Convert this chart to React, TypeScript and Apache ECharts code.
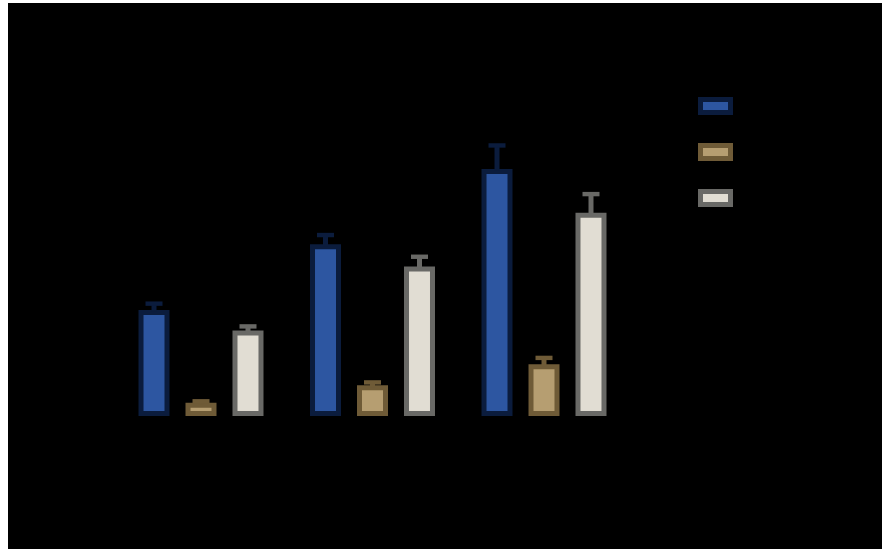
import React, { useEffect, useRef } from "react";
import * as echarts from "echarts";

// Three groups of bars, each bar with an upward error whisker.
const categories = ["A", "B", "C"];
const seriesNames = ["Series 1", "Series 2", "Series 3"];

const blueValues = [30.3, 49.1, 70.6];
const blueErrors = [1.8, 2.6, 6.7];
const tanValues = [3.8, 8.8, 14.8];
const tanErrors = [0.4, 0.8, 1.8];
const greyValues = [24.4, 42.7, 58.1];
const greyErrors = [1.2, 2.8, 5.3];

const fills = ["#2d56a1", "#b69e71", "#e1ddd3"];
const borders = ["#0b1c3d", "#6f5b37", "#696966"];

const BAR_WIDTH = 31;
const BAR_GAP = 0.516;

export default function App() {
  const ref = useRef<HTMLDivElement>(null);

  useEffect(() => {
    if (!ref.current) return;
    const chart = echarts.init(ref.current, null, { renderer: "svg" });

    const valueSets = [blueValues, tanValues, greyValues];
    const errorSets = [blueErrors, tanErrors, greyErrors];

    const barSeries = valueSets.map((vals, i) => ({
      name: seriesNames[i],
      type: "bar",
      data: vals,
      barWidth: BAR_WIDTH,
      barGap: `${BAR_GAP * 100}%`,
      itemStyle: { color: fills[i], borderColor: borders[i], borderWidth: 5 },
      z: 2,
    }));

    const errorSeries = valueSets.map((vals, i) => ({
      name: seriesNames[i] + " error",
      type: "custom",
      z: 3,
      data: vals.map((v, ci) => [ci, v, errorSets[i][ci]]),
      encode: { x: 0, y: 1 },
      renderItem: (_params: any, api: any) => {
        const ci = api.value(0);
        const v = api.value(1);
        const e = api.value(2);
        const base = api.coord([ci, v]);
        const top = api.coord([ci, v + e]);
        const offset = BAR_WIDTH * (1 + BAR_GAP) * (i - 1);
        const x = base[0] + offset;
        const color = borders[i];
        return {
          type: "group",
          children: [
            {
              type: "line",
              shape: { x1: x, y1: base[1] + 2, x2: x, y2: top[1] },
              style: { stroke: color, lineWidth: 5 },
            },
            {
              type: "line",
              shape: { x1: x - 8.5, y1: top[1], x2: x + 8.5, y2: top[1] },
              style: { stroke: color, lineWidth: 4.4 },
            },
          ],
        };
      },
    }));

    chart.setOption({
      animation: false,
      backgroundColor: "#000000",
      grid: { left: 107.25, right: 252.25, top: 63, bottom: 133 },
      legend: {
        orient: "vertical",
        left: 685,
        top: 89,
        icon: "rect",
        itemWidth: 30,
        itemHeight: 13,
        itemGap: 28,
        data: seriesNames,
        formatter: () => "",
        itemStyle: { borderWidth: 5 },
        textStyle: { color: "#000000" },
      },
      xAxis: {
        type: "category",
        data: categories,
        axisLine: { show: false },
        axisTick: { show: false },
        axisLabel: { show: false },
      },
      yAxis: {
        type: "value",
        min: 0,
        max: 100,
        axisLine: { show: false },
        axisTick: { show: false },
        axisLabel: { show: false },
        splitLine: { show: false },
      },
      series: [...barSeries, ...errorSeries],
    });

    return () => chart.dispose();
  }, []);

  return (
    <div
      ref={ref}
      style={{ position: "absolute", left: 8, top: 3, width: 874, height: 546 }}
    />
  );
}
